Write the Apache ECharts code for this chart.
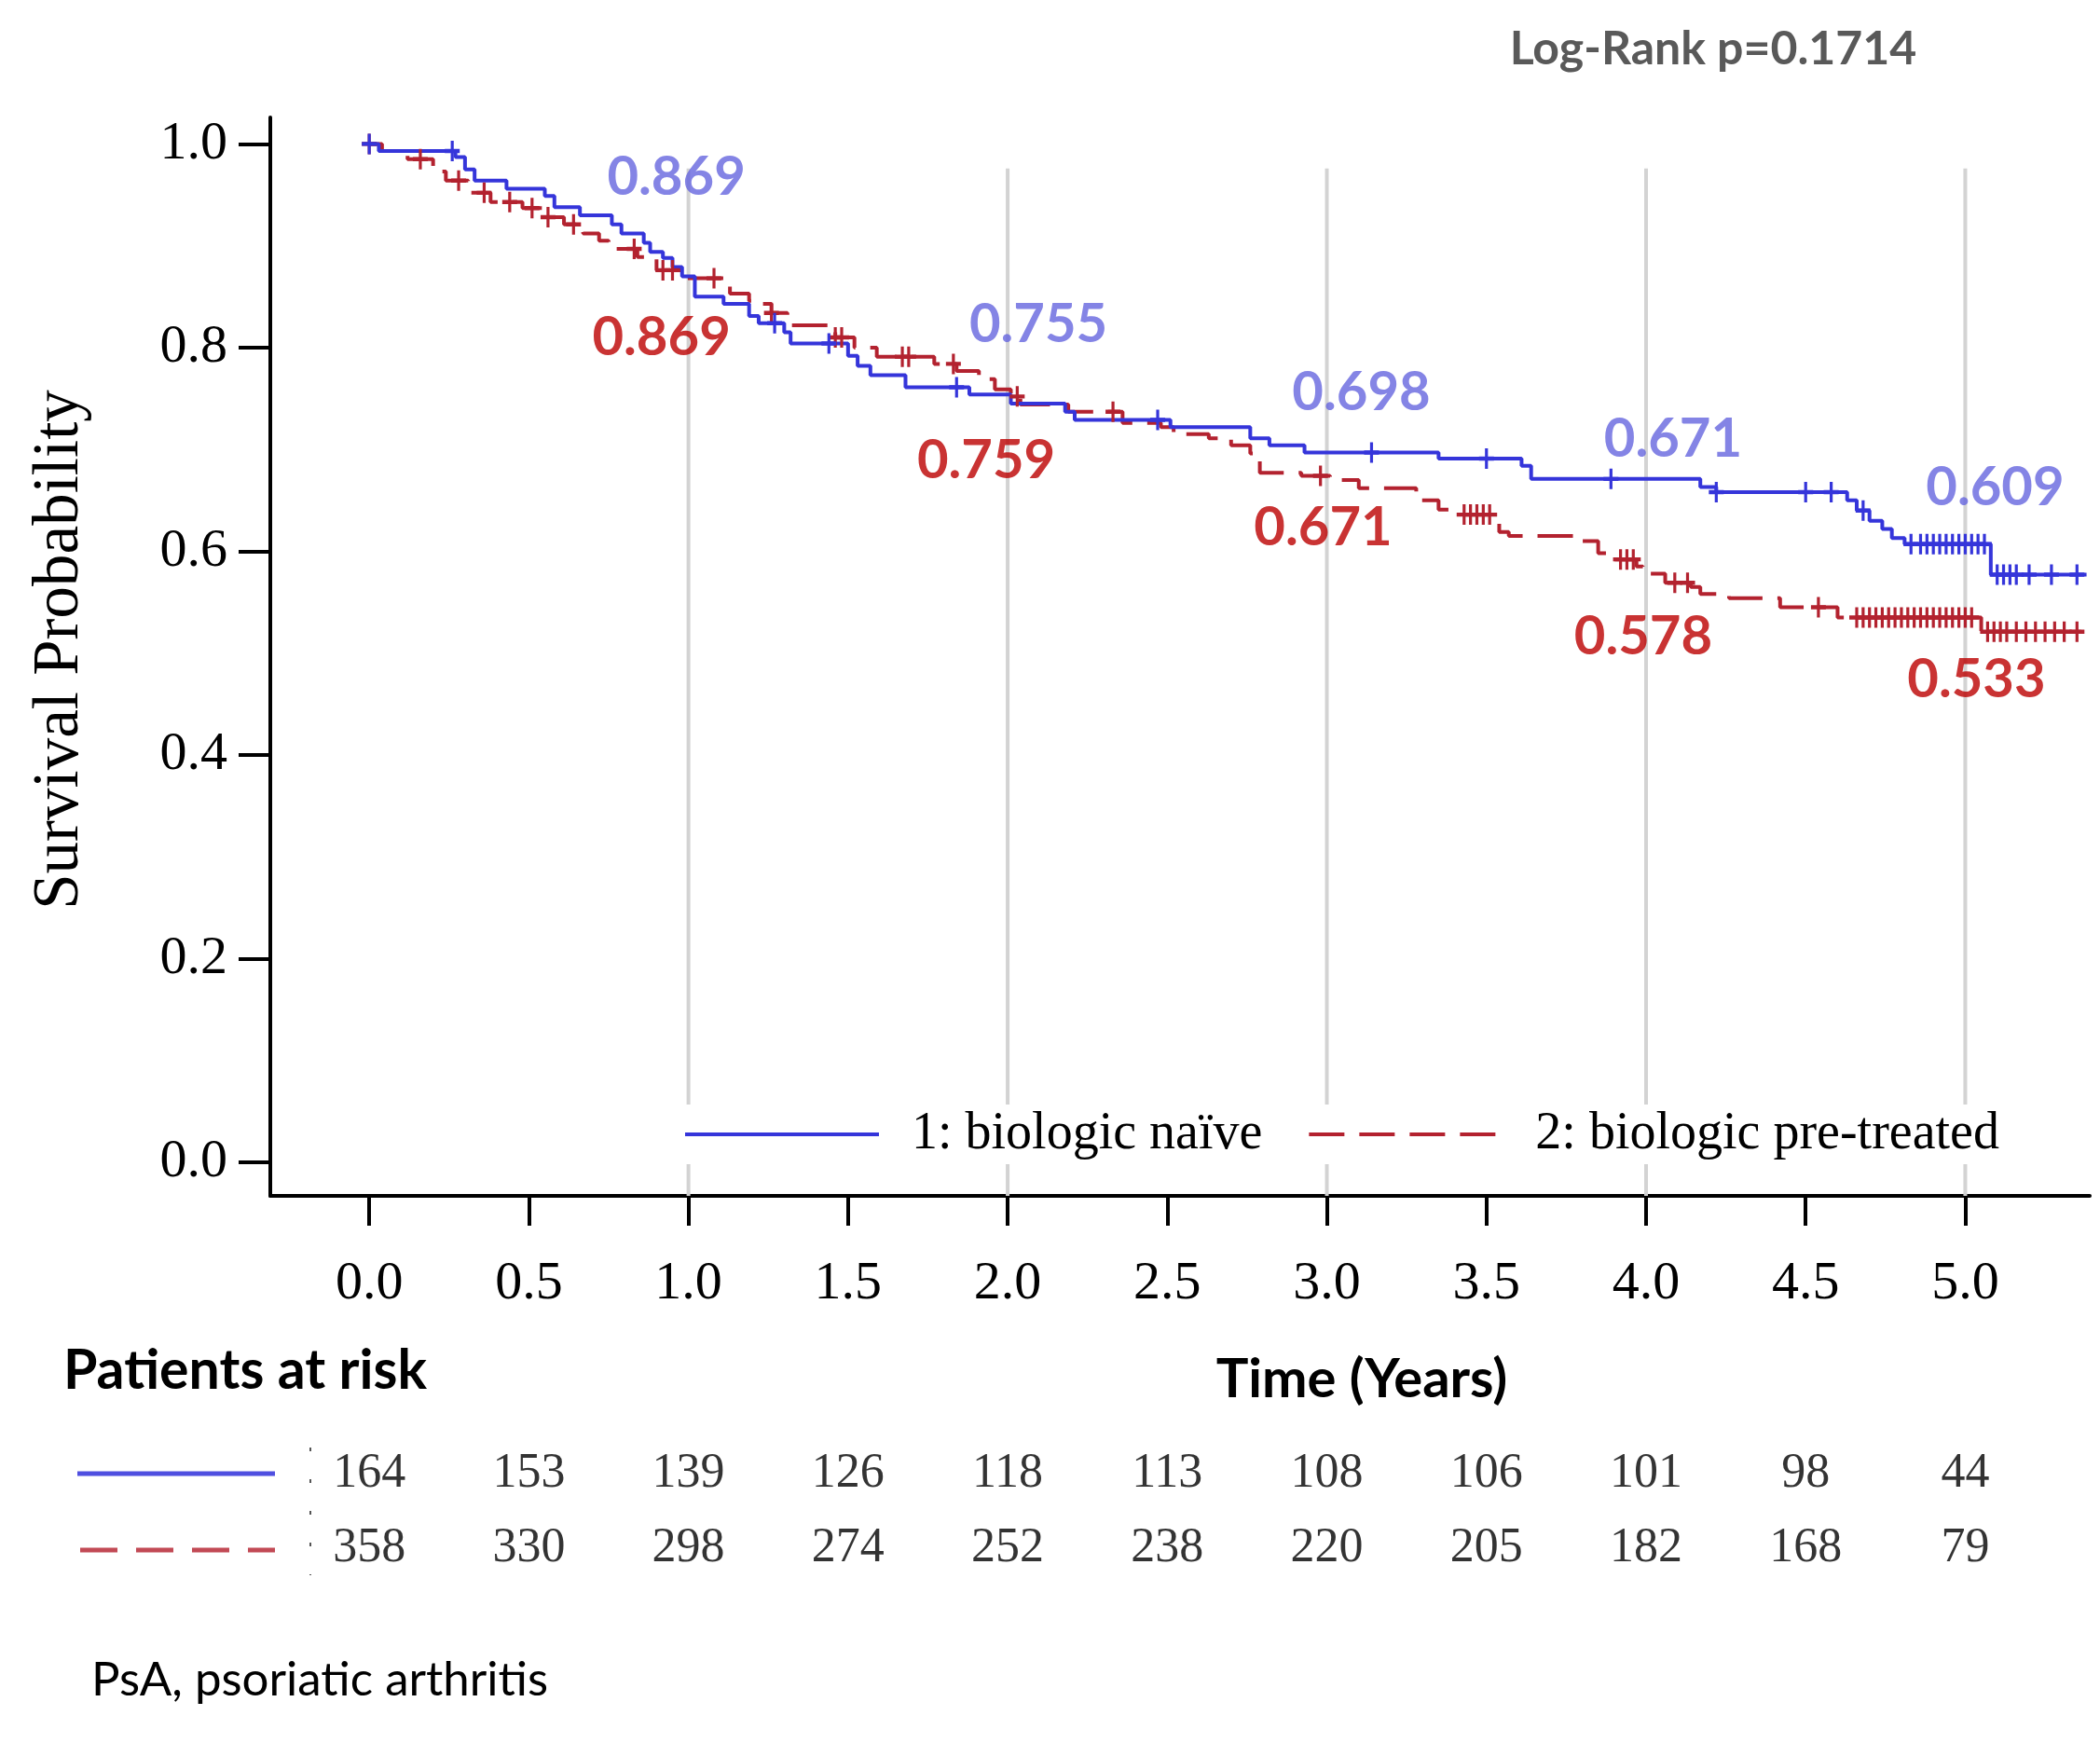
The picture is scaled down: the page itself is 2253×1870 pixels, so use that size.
<!DOCTYPE html>
<html>
<head>
<meta charset="utf-8">
<script src="https://cdn.jsdelivr.net/npm/echarts@6/dist/echarts.min.js"></script>
<style>
html,body{margin:0;padding:0;background:#fff;}
#c{width:2253px;height:1870px;}
</style>
</head>
<body>
<div id="c"></div>
<script>
// ---------- data ----------
const seriesNames = ['1: biologic naïve', '2: biologic pre-treated'];
const xTicks = [0, 0.5, 1, 1.5, 2, 2.5, 3, 3.5, 4, 4.5, 5];
const yTicks = [0, 0.2, 0.4, 0.6, 0.8, 1.0];
const gridYears = [1, 2, 3, 4, 5];

// Kaplan-Meier steps [time (years), survival]
const naiveSteps = [
  [0,1.0],[0.03,0.993],[0.27,0.987],[0.30,0.975],[0.33,0.964],[0.43,0.956],[0.55,0.949],
  [0.58,0.938],[0.66,0.930],[0.76,0.921],[0.79,0.912],[0.86,0.903],[0.88,0.894],[0.92,0.888],
  [0.95,0.879],[0.98,0.870],[1.02,0.850],[1.11,0.843],[1.19,0.831],[1.22,0.824],[1.30,0.815],
  [1.32,0.804],[1.50,0.792],[1.53,0.782],[1.57,0.773],[1.68,0.761],[1.88,0.754],[2.01,0.745],
  [2.18,0.737],[2.21,0.729],[2.51,0.722],[2.76,0.711],[2.82,0.704],[2.93,0.697],[3.35,0.691],
  [3.61,0.684],[3.64,0.671],[4.17,0.663],[4.22,0.658],[4.63,0.650],[4.66,0.640],[4.70,0.630],
  [4.74,0.622],[4.77,0.613],[4.81,0.607],[5.08,0.577],[5.38,0.577]
];
const pretreatedSteps = [
  [0,1.0],[0.04,0.993],[0.12,0.985],[0.20,0.973],[0.24,0.964],[0.31,0.952],[0.38,0.943],
  [0.48,0.937],[0.55,0.928],[0.61,0.921],[0.67,0.912],[0.72,0.905],[0.75,0.897],[0.84,0.889],
  [0.90,0.876],[0.98,0.868],[1.11,0.862],[1.13,0.853],[1.19,0.846],[1.22,0.843],[1.26,0.834],
  [1.31,0.822],[1.44,0.816],[1.46,0.810],[1.52,0.800],[1.59,0.791],[1.77,0.784],[1.84,0.777],
  [1.91,0.769],[1.96,0.759],[2.01,0.752],[2.04,0.744],[2.19,0.737],[2.36,0.726],[2.48,0.722],
  [2.52,0.715],[2.63,0.711],[2.70,0.704],[2.76,0.696],[2.79,0.677],[2.92,0.674],[3.01,0.670],
  [3.10,0.662],[3.28,0.650],[3.35,0.641],[3.40,0.636],[3.54,0.619],[3.57,0.615],[3.79,0.610],
  [3.85,0.598],[3.90,0.592],[3.97,0.585],[3.99,0.578],[4.06,0.569],[4.14,0.565],[4.17,0.558],
  [4.26,0.554],[4.42,0.545],[4.60,0.535],[5.05,0.521],[5.38,0.521]
];
// censoring times (years)
const naiveCensor = [0.0,0.26,1.27,1.44,1.84,2.47,3.14,3.50,3.89,4.22,4.50,4.58,4.68,
  4.83,4.86,4.88,4.90,4.92,4.94,4.96,4.98,5.00,5.02,5.04,5.06,
  5.10,5.12,5.14,5.16,5.20,5.27,5.35];
const pretreatedCensor = [0.0,0.16,0.28,0.36,0.44,0.51,0.56,0.64,0.83,0.92,0.95,1.08,1.26,1.46,1.48,
  1.67,1.69,1.83,2.03,2.33,2.98,3.43,3.45,3.47,3.49,3.51,3.92,3.94,3.96,4.09,4.13,4.54,
  4.66,4.68,4.70,4.72,4.74,4.76,4.78,4.80,4.82,4.84,4.86,4.88,4.90,4.92,4.94,4.96,4.98,5.00,5.02,
  5.07,5.09,5.11,5.13,5.16,5.19,5.22,5.25,5.28,5.31,5.35];

// annotated survival at years 1..5
const labelYears = [1, 2, 3, 4, 5];
const naiveLabels = [0.869, 0.755, 0.698, 0.671, 0.609];
const pretreatedLabels = [0.869, 0.759, 0.671, 0.578, 0.533];

// patients at risk at xTicks
const riskNaive = [164, 153, 139, 126, 118, 113, 108, 106, 101, 98, 44];
const riskPretreated = [358, 330, 298, 274, 252, 238, 220, 205, 182, 168, 79];

// ---------- styling (kept separate from data) ----------
const BLUE = '#3535da', RED = '#b3222f';
const BLUE_LBL = '#6565df', RED_LBL = '#bb0000';
const naiveLabelOffsets = [[-13,-107],[33,-74],[37,-63],[29,-43],[32,-58]];
const pretreatedLabelOffsets = [[-29,65],[-23,77],[-4,52],[-3,68],[12,65]];
const SERIF = 'Liberation Serif';
const SANS = 'Lato';

function survAt(steps, t) {
  let s = steps[0][1];
  for (const p of steps) { if (p[0] <= t + 1e-9) s = p[1]; else break; }
  return s;
}
const plusPath = 'path://M-1.6,-8 H1.6 V-1.6 H8 V1.6 H1.6 V8 H-1.6 V1.6 H-8 V-1.6 H-1.6 Z';

const chart = echarts.init(document.getElementById('c'));

const X_MIN = -0.31, X_MAX = 5.39, Y_MIN = -0.033, Y_MAX = 1.026;

function labelSeries(vals, offs, color) {
  return {
    type: 'scatter', xAxisIndex: 0, yAxisIndex: 0, z: 6, silent: true,
    symbolSize: 0,
    data: vals.map((v, i) => ({
      value: [labelYears[i], v],
      label: { offset: offs[i] }
    })),
    label: {
      show: true, position: 'inside',
      formatter: p => p.value[1].toFixed(3),
      color: color, fontFamily: SANS, fontWeight: 'bold', fontSize: 58
    }
  };
}

const option = {
  animation: false,
  backgroundColor: '#fff',
  grid: [
    { left: 290, top: 126, right: 11, bottom: 587 },
    { left: 290, top: 1541, right: 11, height: 160 }
  ],
  xAxis: [
    {
      type: 'value', gridIndex: 0, min: X_MIN, max: X_MAX,
      axisLine: { show: true, onZero: false, lineStyle: { color: '#000', width: 4 } },
      axisTick: { show: true, customValues: xTicks, length: 32, inside: false, lineStyle: { color: '#000', width: 4 } },
      axisLabel: { customValues: xTicks, formatter: v => v.toFixed(1), margin: 66,
        color: '#000', fontFamily: SERIF, fontSize: 58 },
      splitLine: { show: false }
    },
    { type: 'value', gridIndex: 1, min: X_MIN, max: X_MAX, show: false }
  ],
  yAxis: [
    {
      type: 'value', gridIndex: 0, min: Y_MIN, max: Y_MAX,
      axisLine: { show: true, onZero: false, lineStyle: { color: '#000', width: 4 } },
      axisTick: { show: true, customValues: yTicks, length: 34, lineStyle: { color: '#000', width: 4 } },
      axisLabel: { customValues: yTicks, formatter: v => v.toFixed(1), margin: 46,
        color: '#000', fontFamily: SERIF, fontSize: 58 },
      splitLine: { show: false }
    },
    { type: 'category', gridIndex: 1, data: ['naive', 'pre'], inverse: true, show: false }
  ],
  legend: {
    data: seriesNames,
    orient: 'horizontal',
    left: 728, top: 1185,
    padding: [4, 12, 4, 5],
    backgroundColor: '#fff',
    itemWidth: 208, itemHeight: 20, itemGap: 48,
    itemStyle: { opacity: 0 },
    lineStyle: { width: 4 },
    textStyle: { fontFamily: SERIF, fontSize: 56, color: '#000', lineHeight: 56, padding: [0, 0, 0, 30] },
    selectedMode: false
  },
  series: [
    {
      type: 'custom', xAxisIndex: 0, yAxisIndex: 0, z: 1, silent: true,
      data: gridYears,
      renderItem: (params, api) => {
        const x = api.value(0);
        const p1 = api.coord([x, Y_MIN]);
        const p2 = api.coord([x, 0.976]);
        return { type: 'line', shape: { x1: p1[0], y1: p1[1], x2: p2[0], y2: p2[1] },
          style: { stroke: '#d3d3d3', lineWidth: 4 } };
      }
    },
    {
      name: seriesNames[0], type: 'line', step: 'end', xAxisIndex: 0, yAxisIndex: 0, z: 3,
      data: naiveSteps, symbol: 'none', showSymbol: false,
      lineStyle: { color: BLUE, width: 4 }, itemStyle: { color: BLUE }
    },
    {
      name: seriesNames[1], type: 'line', step: 'end', xAxisIndex: 0, yAxisIndex: 0, z: 2,
      data: pretreatedSteps, symbol: 'none', showSymbol: false,
      lineStyle: { color: RED, width: 4, type: [38, 16] }, itemStyle: { color: RED }
    },
    {
      type: 'scatter', xAxisIndex: 0, yAxisIndex: 0, z: 4, silent: true,
      symbol: plusPath, symbolSize: [16, 22],
      data: naiveCensor.map(t => [t, survAt(naiveSteps, t)]),
      itemStyle: { color: BLUE, opacity: 1 }
    },
    {
      type: 'scatter', xAxisIndex: 0, yAxisIndex: 0, z: 3, silent: true,
      symbol: plusPath, symbolSize: [16, 22],
      data: pretreatedCensor.map(t => [t, survAt(pretreatedSteps, t)]),
      itemStyle: { color: RED, opacity: 1 }
    },
    labelSeries(naiveLabels, naiveLabelOffsets, BLUE_LBL),
    labelSeries(pretreatedLabels, pretreatedLabelOffsets, RED_LBL),
    {
      type: 'scatter', xAxisIndex: 1, yAxisIndex: 1, symbolSize: 0, silent: true,
      data: riskNaive.map((n, i) => [xTicks[i], 0, n]).concat(
            riskPretreated.map((n, i) => [xTicks[i], 1, n])),
      label: { show: true, position: 'inside', formatter: p => String(p.value[2]),
        color: '#000', fontFamily: SERIF, fontSize: 52 }
    }
  ],
  graphic: [
    { type: 'text', x: 1838, y: 53, style: { text: 'Log-Rank p=0.1714', fill: '#595959',
      fontFamily: SANS, fontWeight: 'bold', fontSize: 50, align: 'center', verticalAlign: 'middle' } },
    { type: 'text', x: 65, y: 697, rotation: Math.PI / 2, style: { text: 'Survival Probability', fill: '#000',
      fontFamily: SERIF, fontSize: 69, align: 'center', verticalAlign: 'middle' } },
    { type: 'text', x: 68, y: 1471, style: { text: 'Patients at risk', fill: '#000',
      fontFamily: SANS, fontWeight: 'bold', fontSize: 59, align: 'left', verticalAlign: 'middle' } },
    { type: 'text', x: 1461, y: 1480, style: { text: 'Time (Years)', fill: '#000',
      fontFamily: SANS, fontWeight: 'bold', fontSize: 58, align: 'center', verticalAlign: 'middle' } },
    { type: 'text', x: 98, y: 1803, style: { text: 'PsA, psoriatic arthritis', fill: '#000',
      fontFamily: SANS, fontSize: 51, align: 'left', verticalAlign: 'middle' } },
    { type: 'line', shape: { x1: 83, y1: 1581, x2: 295, y2: 1581 }, style: { stroke: '#4f4fe0', lineWidth: 5 } },
    { type: 'line', shape: { x1: 86, y1: 1663, x2: 295, y2: 1663 }, style: { stroke: '#c24a55', lineWidth: 5, lineDash: [40, 20] } },
    { type: 'line', shape: { x1: 333, y1: 1553, x2: 333, y2: 1690 }, style: { stroke: '#555', lineWidth: 2, lineDash: [4, 30] } }
  ]
};
chart.setOption(option);
</script>
</body>
</html>
